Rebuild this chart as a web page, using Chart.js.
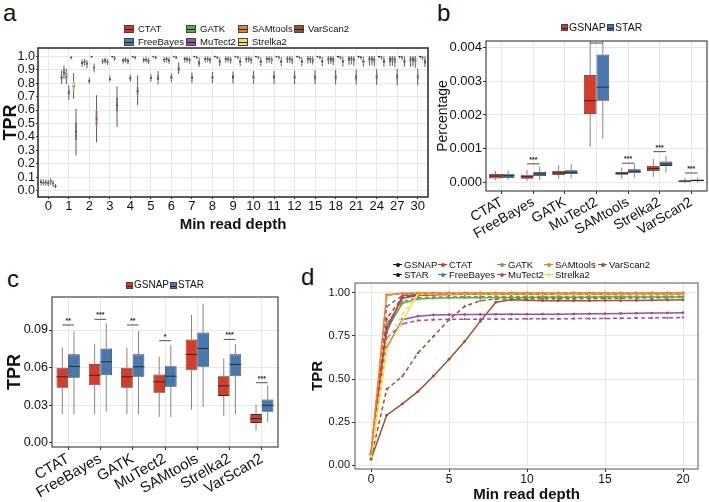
<!DOCTYPE html>
<html>
<head>
<meta charset="utf-8">
<script src="https://cdn.jsdelivr.net/npm/chart.js@4.4.0/dist/chart.umd.min.js"></script>
<style>
body{margin:0;width:709px;height:502px;position:relative;background:#fff;overflow:hidden;font-family:"Liberation Sans",Arial,sans-serif;color:#111}
canvas{position:absolute}
.tag{position:absolute;font-size:24px;line-height:24px}
.li{position:absolute;white-space:nowrap;line-height:10px}
.bx{position:absolute;box-sizing:border-box;border:1px solid #444}
.bx:after{content:"";position:absolute;left:0;right:0;top:50%;border-top:1px solid #222}
.ln{position:absolute;height:0}
.dot{position:absolute;width:4px;height:4px;border-radius:2px}
</style>
</head>
<body>
<div class="tag" style="left:3px;top:1px">a</div>
<div class="tag" style="left:437px;top:1px">b</div>
<div class="tag" style="left:7px;top:267px">c</div>
<div class="tag" style="left:301px;top:265px">d</div>
<canvas id="ca" width="436" height="240" style="left:0;top:0"></canvas>
<canvas id="cb" width="273" height="250" style="left:436px;top:0"></canvas>
<canvas id="cc" width="300" height="252" style="left:0;top:250px"></canvas>
<canvas id="cd" width="409" height="252" style="left:300px;top:250px"></canvas>
<div id="legs"></div>
<script>
Chart.defaults.font.family = '"Liberation Sans", Arial, sans-serif';
Chart.defaults.color = '#111';

// ---- data ----
var tools = ['CTAT', 'FreeBayes', 'GATK', 'MuTect2', 'SAMtools', 'Strelka2', 'VarScan2'];
var toolColors = ['#D7372A', '#4A7CB3', '#5BAA4C', '#9A4FA6', '#F0802A', '#F2E35A', '#A0522D'];
var mapColors = ['#D43D2A', '#4779B0']; // GSNAP, STAR

// panel a: [low whisker, q1, median, q3, high whisker] per min read depth
var depthA = ['0', '1', '2', '3', '4', '5', '6', '7', '8', '9', '10', '11', '12', '15', '18', '21', '24', '27', '30'];
var tickA = [0, 0.1, 0.2, 0.3, 0.4, 0.5, 0.6, 0.7, 0.8, 0.9, 1.0];
var ctatA = [[0.040,0.055,0.065,0.075,0.090],[0.795,0.825,0.840,0.864,0.894],[0.920,0.940,0.950,0.960,0.975],[0.940,0.952,0.962,0.970,0.982],[0.945,0.958,0.968,0.976,0.988],[0.950,0.962,0.972,0.980,0.990],[0.950,0.965,0.975,0.983,0.993],[0.952,0.967,0.977,0.985,0.995],[0.953,0.968,0.978,0.986,0.996],[0.953,0.968,0.979,0.987,0.997],[0.952,0.968,0.979,0.988,0.998],[0.950,0.967,0.980,0.988,0.998],[0.948,0.966,0.980,0.989,0.999],[0.945,0.965,0.980,0.990,1.000],[0.940,0.963,0.980,0.990,1.000],[0.935,0.960,0.980,0.991,1.000],[0.930,0.958,0.979,0.991,1.000],[0.925,0.955,0.978,0.991,1.000],[0.920,0.952,0.977,0.991,1.000]];
var fbA = [[0.040,0.050,0.060,0.070,0.085],[0.832,0.857,0.880,0.906,0.930],[0.930,0.948,0.958,0.968,0.980],[0.945,0.958,0.968,0.976,0.988],[0.950,0.962,0.972,0.980,0.992],[0.952,0.965,0.975,0.983,0.994],[0.953,0.967,0.977,0.985,0.995],[0.953,0.968,0.978,0.986,0.996],[0.954,0.969,0.979,0.987,0.997],[0.954,0.969,0.980,0.988,0.998],[0.953,0.969,0.980,0.988,0.998],[0.952,0.968,0.981,0.989,0.999],[0.950,0.967,0.981,0.990,1.000],[0.947,0.966,0.981,0.990,1.000],[0.943,0.964,0.981,0.991,1.000],[0.938,0.962,0.981,0.991,1.000],[0.933,0.960,0.980,0.991,1.000],[0.928,0.957,0.979,0.991,1.000],[0.923,0.954,0.978,0.991,1.000]];
var gatkA = [[0.040,0.055,0.063,0.072,0.085],[0.790,0.825,0.845,0.874,0.906],[0.910,0.930,0.943,0.955,0.970],[0.935,0.948,0.958,0.967,0.980],[0.940,0.953,0.963,0.972,0.985],[0.942,0.956,0.966,0.975,0.988],[0.943,0.958,0.968,0.977,0.990],[0.944,0.959,0.969,0.978,0.991],[0.944,0.960,0.970,0.979,0.992],[0.944,0.960,0.971,0.980,0.993],[0.943,0.960,0.971,0.981,0.994],[0.942,0.959,0.972,0.982,0.995],[0.940,0.958,0.972,0.983,0.996],[0.937,0.957,0.972,0.984,0.997],[0.933,0.955,0.972,0.985,0.998],[0.928,0.953,0.972,0.985,0.999],[0.923,0.951,0.971,0.986,1.000],[0.918,0.948,0.970,0.986,1.000],[0.913,0.945,0.969,0.986,1.000]];
var mtA = [[0.035,0.048,0.057,0.065,0.080],[0.677,0.709,0.728,0.750,0.783],[0.795,0.806,0.815,0.826,0.840],[0.810,0.822,0.830,0.840,0.855],[0.810,0.825,0.835,0.845,0.860],[0.810,0.826,0.838,0.848,0.865],[0.805,0.826,0.840,0.852,0.870],[0.800,0.826,0.841,0.856,0.878],[0.798,0.826,0.842,0.858,0.882],[0.796,0.826,0.842,0.860,0.886],[0.795,0.826,0.843,0.861,0.888],[0.794,0.826,0.843,0.862,0.890],[0.793,0.826,0.843,0.863,0.892],[0.792,0.825,0.844,0.864,0.895],[0.790,0.825,0.844,0.865,0.898],[0.788,0.825,0.844,0.866,0.900],[0.786,0.825,0.845,0.867,0.902],[0.784,0.824,0.845,0.868,0.904],[0.782,0.824,0.845,0.869,0.906]];
var samA = [[0.045,0.060,0.070,0.080,0.095],[0.975,0.984,0.990,0.995,1.000],[0.985,0.993,0.997,0.999,1.000],[0.986,0.994,0.997,0.999,1.000],[0.987,0.994,0.998,0.999,1.000],[0.987,0.995,0.998,0.999,1.000],[0.988,0.995,0.998,0.999,1.000],[0.988,0.995,0.998,1.000,1.000],[0.988,0.995,0.998,1.000,1.000],[0.988,0.995,0.998,1.000,1.000],[0.988,0.995,0.998,1.000,1.000],[0.988,0.995,0.998,1.000,1.000],[0.988,0.995,0.998,1.000,1.000],[0.987,0.995,0.998,1.000,1.000],[0.986,0.994,0.998,1.000,1.000],[0.985,0.994,0.998,1.000,1.000],[0.984,0.993,0.998,1.000,1.000],[0.983,0.993,0.998,1.000,1.000],[0.982,0.992,0.998,1.000,1.000]];
var strA = [[0.030,0.045,0.055,0.065,0.080],[0.684,0.746,0.775,0.812,0.874],[0.880,0.900,0.913,0.928,0.945],[0.965,0.978,0.985,0.992,1.000],[0.975,0.985,0.990,0.995,1.000],[0.976,0.986,0.991,0.996,1.000],[0.977,0.986,0.991,0.996,1.000],[0.977,0.987,0.992,0.996,1.000],[0.977,0.987,0.992,0.996,1.000],[0.977,0.987,0.992,0.997,1.000],[0.977,0.987,0.992,0.997,1.000],[0.976,0.987,0.992,0.997,1.000],[0.976,0.986,0.992,0.997,1.000],[0.975,0.986,0.992,0.997,1.000],[0.974,0.985,0.992,0.997,1.000],[0.973,0.985,0.992,0.997,1.000],[0.972,0.984,0.992,0.997,1.000],[0.971,0.984,0.991,0.997,1.000],[0.970,0.983,0.991,0.997,1.000]];
var vsA = [[0.020,0.030,0.035,0.042,0.052],[0.264,0.375,0.440,0.504,0.610],[0.360,0.479,0.535,0.597,0.710],[0.474,0.590,0.635,0.690,0.775],[0.635,0.709,0.740,0.775,0.857],[0.790,0.820,0.835,0.857,0.889],[0.867,0.890,0.905,0.930,0.955],[0.920,0.932,0.948,0.965,0.990],[0.925,0.945,0.958,0.972,0.990],[0.926,0.946,0.959,0.973,0.991],[0.926,0.946,0.959,0.973,0.991],[0.925,0.946,0.959,0.973,0.992],[0.925,0.946,0.960,0.974,0.992],[0.924,0.946,0.960,0.974,0.993],[0.923,0.946,0.960,0.975,0.994],[0.922,0.945,0.960,0.975,0.995],[0.921,0.945,0.960,0.976,0.996],[0.920,0.944,0.960,0.976,0.997],[0.919,0.944,0.960,0.977,0.998]];
var statsA = [ctatA, fbA, gatkA, mtA, samA, strA, vsA];

// panel b: percentage, per caller
var tickB = [0, 0.001, 0.002, 0.003, 0.004];
var gsnapB = [[0.00008,0.00013,0.00020,0.00026,0.00035],[0.00005,0.00012,0.00018,0.00024,0.00038],[0.00012,0.00023,0.00029,0.00035,0.00052],[0.00106,0.00203,0.00242,0.00318,0.00450],[0.00012,0.00024,0.00028,0.00032,0.00045],[0.00018,0.00035,0.00042,0.00050,0.00070],[0.00000,0.00003,0.00005,0.00008,0.00015]];
var starB = [[0.00009,0.00014,0.00021,0.00027,0.00036],[0.00008,0.00020,0.00026,0.00032,0.00048],[0.00015,0.00026,0.00031,0.00037,0.00055],[0.00130,0.00242,0.00282,0.00378,0.00450],[0.00016,0.00028,0.00033,0.00040,0.00055],[0.00030,0.00050,0.00056,0.00063,0.00080],[0.00002,0.00005,0.00007,0.00010,0.00016]];
var sigB = ['', '***', '', '**', '***', '***', '***'];
var sigYB = [0, 0.00056, 0, 0.00412, 0.00058, 0.00092, 0.00029];

// panel c: TPR, per caller
var tickC = [0, 0.03, 0.06, 0.09];
var gsnapC = [[0.023,0.044,0.0527,0.060,0.076],[0.023,0.046,0.054,0.063,0.079],[0.023,0.044,0.0527,0.060,0.076],[0.0208,0.040,0.0487,0.0546,0.0687],[0.0266,0.058,0.0705,0.0825,0.102],[0.0216,0.0375,0.0455,0.0532,0.0674],[0.010,0.016,0.0194,0.023,0.0306]];
var starC = [[0.023,0.052,0.061,0.0706,0.089],[0.025,0.054,0.0647,0.0753,0.0953],[0.023,0.0527,0.0607,0.0706,0.089],[0.0208,0.0447,0.0532,0.0612,0.078],[0.0288,0.0607,0.0753,0.088,0.111],[0.023,0.0532,0.0626,0.0706,0.079],[0.0168,0.0248,0.030,0.0346,0.046]];
var sigC = ['**', '***', '**', '*', '', '***', '***'];
var sigYC = [0.094, 0.0985, 0.094, 0.0815, 0, 0.0825, 0.048];

// panel d: mean TPR by min read depth, GSNAP (solid) and STAR (dashed)
var depthD = [0,1,2,3,4,5,6,7,8,9,10,11,12,13,14,15,16,17,18,19,20];
var tickDx = [0, 5, 10, 15, 20];
var tickDy = [0, 0.25, 0.5, 0.75, 1.0];
var ctatG = [0.06,0.80,0.970,0.985,0.990,0.991,0.992,0.992,0.993,0.993,0.993,0.993,0.994,0.994,0.994,0.994,0.994,0.995,0.995,0.995,0.995];
var ctatS = [0.06,0.85,0.975,0.988,0.991,0.992,0.993,0.993,0.994,0.994,0.994,0.994,0.994,0.995,0.995,0.995,0.995,0.995,0.996,0.996,0.996];
var fbG = [0.07,0.77,0.985,0.990,0.992,0.993,0.993,0.994,0.994,0.994,0.995,0.995,0.995,0.995,0.995,0.996,0.996,0.996,0.996,0.996,0.996];
var fbS = [0.07,0.92,0.985,0.992,0.994,0.995,0.995,0.995,0.996,0.996,0.996,0.996,0.996,0.996,0.997,0.997,0.997,0.997,0.997,0.997,0.997];
var gatkG = [0.06,0.786,0.940,0.965,0.970,0.972,0.973,0.973,0.974,0.974,0.974,0.975,0.975,0.975,0.975,0.976,0.976,0.976,0.976,0.977,0.977];
var gatkS = [0.06,0.820,0.950,0.972,0.976,0.977,0.978,0.978,0.979,0.979,0.979,0.980,0.980,0.980,0.980,0.980,0.981,0.981,0.981,0.981,0.981];
var mtG = [0.07,0.68,0.845,0.865,0.872,0.874,0.875,0.875,0.876,0.876,0.877,0.877,0.877,0.878,0.879,0.880,0.881,0.882,0.883,0.884,0.885];
var mtS = [0.06,0.738,0.820,0.840,0.845,0.847,0.848,0.848,0.849,0.849,0.850,0.850,0.850,0.851,0.851,0.852,0.853,0.854,0.855,0.856,0.857];
var samG = [0.07,0.990,0.998,1.0,1.0,1.0,1.0,1.0,1.0,1.0,1.0,1.0,1.0,1.0,1.0,1.0,1.0,1.0,1.0,1.0,1.0];
var samS = [0.065,0.985,0.997,0.999,1.0,1.0,1.0,1.0,1.0,1.0,1.0,1.0,1.0,1.0,1.0,1.0,1.0,1.0,1.0,1.0,1.0];
var strG = [0.05,0.67,0.835,0.995,0.997,0.997,0.997,0.997,0.997,0.997,0.997,0.997,0.997,0.997,0.997,0.997,0.997,0.997,0.997,0.997,0.997];
var strS = [0.05,0.72,0.875,0.990,0.995,0.996,0.996,0.996,0.996,0.996,0.996,0.996,0.996,0.996,0.996,0.996,0.996,0.996,0.996,0.996,0.996];
var vsG = [0.033,0.29,0.355,0.427,0.518,0.615,0.718,0.835,0.946,0.960,0.958,0.955,0.955,0.955,0.955,0.956,0.956,0.957,0.958,0.959,0.960];
var vsS = [0.04,0.44,0.515,0.65,0.748,0.845,0.922,0.955,0.965,0.966,0.966,0.966,0.967,0.967,0.968,0.969,0.970,0.971,0.972,0.973,0.975];
var seriesG = [ctatG, fbG, gatkG, mtG, samG, strG, vsG];
var seriesS = [ctatS, fbS, gatkS, mtS, samS, strS, vsS];

// ---- plugins ----
var frame = {
  id: 'frame',
  afterDraw: function(chart, args, o) {
    var c = chart.ctx, a = chart.chartArea;
    c.save();
    c.strokeStyle = o.color; c.lineWidth = o.width;
    c.strokeRect(a.left, a.top, a.right - a.left, a.bottom - a.top);
    c.restore();
  }
};

var boxes = {
  id: 'boxes',
  beforeDatasetsDraw: function(chart, args, o) {
    var c = chart.ctx, a = chart.chartArea, y = chart.scales.y;
    c.save();
    c.beginPath(); c.rect(a.left, a.top, a.right - a.left, a.bottom - a.top); c.clip();
    c.strokeStyle = o.whisker; c.lineWidth = o.lw;
    chart.data.datasets.forEach(function(ds, di) {
      if (!ds.stats) return;
      chart.getDatasetMeta(di).data.forEach(function(el, i) {
        var s = ds.stats[i];
        c.beginPath();
        c.moveTo(el.x, y.getPixelForValue(s[0])); c.lineTo(el.x, y.getPixelForValue(s[1]));
        c.moveTo(el.x, y.getPixelForValue(s[3])); c.lineTo(el.x, y.getPixelForValue(s[4]));
        c.stroke();
      });
    });
    c.restore();
  },
  afterDatasetsDraw: function(chart, args, o) {
    var c = chart.ctx, a = chart.chartArea, y = chart.scales.y;
    c.save();
    c.beginPath(); c.rect(a.left, a.top, a.right - a.left, a.bottom - a.top); c.clip();
    c.strokeStyle = '#1a1a1a'; c.lineWidth = o.medLw;
    chart.data.datasets.forEach(function(ds, di) {
      if (!ds.stats) return;
      chart.getDatasetMeta(di).data.forEach(function(el, i) {
        var py = y.getPixelForValue(ds.stats[i][2]);
        c.beginPath(); c.moveTo(el.x - el.width / 2, py); c.lineTo(el.x + el.width / 2, py); c.stroke();
      });
    });
    if (o.sig) {
      var m0 = chart.getDatasetMeta(0).data, m1 = chart.getDatasetMeta(1).data;
      c.strokeStyle = '#222'; c.fillStyle = '#222'; c.lineWidth = 0.8;
      c.font = 'bold 7px "Liberation Sans", Arial'; c.textAlign = 'center'; c.textBaseline = 'bottom';
      o.sig.forEach(function(t, i) {
        if (!t) return;
        var py = y.getPixelForValue(o.sigY[i]);
        c.beginPath(); c.moveTo(m0[i].x, py); c.lineTo(m1[i].x, py); c.stroke();
        c.fillText(t, (m0[i].x + m1[i].x) / 2, py - 0.5);
      });
    }
    c.restore();
  }
};
Chart.register(frame, boxes);

function fixTicks(list) {
  return function(s) { s.ticks = list.map(function(v) { return {value: v}; }); };
}
var gridCol = '#E8E8E8';

// ---- panel a ----
new Chart(document.getElementById('ca'), {
  type: 'bar',
  data: {
    labels: depthA,
    datasets: tools.map(function(t, i) {
      return {label: t, stats: statsA[i], data: statsA[i].map(function(s) { return [s[1], s[3]]; }),
        backgroundColor: toolColors[i], borderColor: '#333', borderWidth: 0.6, borderSkipped: false,
        categoryPercentage: 0.82, barPercentage: 0.85};
    })
  },
  options: {
    responsive: false, animation: false,
    layout: {padding: {left: 0, top: 48, right: 8, bottom: 8}},
    plugins: {legend: {display: false}, tooltip: {enabled: false},
      frame: {color: '#333', width: 1.6}, boxes: {whisker: '#333', lw: 0.8, medLw: 0.6}},
    scales: {
      x: {grid: {color: gridCol, offset: false, tickLength: 2, tickColor: '#333'}, border: {display: false},
        ticks: {font: {size: 13, lineHeight: 1}, padding: 1, autoSkip: false, maxRotation: 0},
        title: {display: true, text: 'Min read depth', font: {size: 15, weight: 'bold', lineHeight: 1}, padding: 0},
        afterFit: function(s) { s.height = 35; }},
      y: {min: -0.045, max: 1.06, afterBuildTicks: fixTicks(tickA),
        grid: {color: gridCol, tickLength: 2, tickColor: '#333'}, border: {display: false},
        ticks: {font: {size: 12.5}, padding: 1, autoSkip: false, callback: function(v) { return v.toFixed(1); }},
        title: {display: true, text: 'TPR', font: {size: 18, weight: 'bold', lineHeight: 1.2}, padding: 0},
        afterFit: function(s) { s.width = 38; }}
    }
  }
});

// ---- panels b and c ----
function mapBox(id, g, st, ticks, yMin, yMax, digits, sig, sigY, opt) {
  new Chart(document.getElementById(id), {
    type: 'bar',
    data: {
      labels: tools,
      datasets: [g, st].map(function(arr, i) {
        return {label: i ? 'STAR' : 'GSNAP', stats: arr, data: arr.map(function(s) { return [s[1], s[3]]; }),
          backgroundColor: mapColors[i], borderColor: '#333', borderWidth: 0.8, borderSkipped: false,
          categoryPercentage: opt.cat, barPercentage: 1};
      })
    },
    options: {
      responsive: false, animation: false,
      layout: {padding: opt.pad},
      plugins: {legend: {display: false}, tooltip: {enabled: false},
        frame: {color: '#333', width: 1.1}, boxes: {whisker: '#666', lw: 0.8, medLw: 0.8, sig: sig, sigY: sigY}},
      scales: {
        x: {grid: {color: gridCol, offset: false, tickLength: 3, tickColor: '#333'}, border: {display: false},
          ticks: {font: {size: opt.xFont}, padding: 0, autoSkip: false, maxRotation: 30, minRotation: 30},
          afterFit: function(s) { s.height = opt.xh; }},
        y: {min: yMin, max: yMax, afterBuildTicks: fixTicks(ticks),
          grid: {color: gridCol, tickLength: 3, tickColor: '#333'}, border: {display: false},
          ticks: {font: {size: opt.yFont}, padding: 1, autoSkip: false, callback: function(v) { return v.toFixed(digits); }},
          title: {display: true, text: opt.yTitle, font: opt.titleFont, padding: 0},
          afterFit: function(s) { s.width = opt.yw; }}
      }
    }
  });
}
mapBox('cb', gsnapB, starB, tickB, -0.00024, 0.00418, 3, sigB, sigYB,
  {cat: 0.8, pad: {left: 0, top: 41, right: 2, bottom: 0}, xh: 59, yw: 50, xFont: 14, yFont: 13,
   yTitle: 'Percentage', titleFont: {size: 14, lineHeight: 1}});
mapBox('cc', gsnapC, starC, tickC, -0.0032, 0.1163, 2, sigC, sigYC,
  {cat: 0.72, pad: {left: 6, top: 47, right: 22, bottom: 0}, xh: 55, yw: 46, xFont: 15, yFont: 12.5,
   yTitle: 'TPR', titleFont: {size: 18, weight: 'bold', lineHeight: 1}});

// ---- panel d ----
var dsD = [];
[4, 5, 0, 1, 2, 3, 6].forEach(function(i) {
  [seriesG[i], seriesS[i]].forEach(function(arr, k) {
    dsD.push({label: tools[i] + (k ? ' STAR' : ' GSNAP'),
      data: depthD.map(function(x, j) { return {x: x, y: arr[j]}; }),
      borderColor: toolColors[i], backgroundColor: toolColors[i], borderWidth: 1.5,
      borderDash: k ? [4, 3] : [], pointRadius: k ? 1.8 : 1.4, pointStyle: k ? 'triangle' : 'circle',
      pointBorderWidth: 0, tension: 0});
  });
});
new Chart(document.getElementById('cd'), {
  type: 'line',
  data: {datasets: dsD},
  options: {
    responsive: false, animation: false,
    layout: {padding: {left: 9, top: 33, right: 11, bottom: 0}},
    plugins: {legend: {display: false}, tooltip: {enabled: false}, frame: {color: '#555', width: 1}},
    scales: {
      x: {type: 'linear', min: -1.03, max: 20.96, afterBuildTicks: fixTicks(tickDx),
        grid: {color: gridCol, tickLength: 3, tickColor: '#333'}, border: {display: false},
        ticks: {font: {size: 12, lineHeight: 1}, padding: 2, autoSkip: false},
        title: {display: true, text: 'Min read depth', font: {size: 15, weight: 'bold', lineHeight: 1}, padding: 0},
        afterFit: function(s) { s.height = 33; }},
      y: {min: -0.023, max: 1.058, afterBuildTicks: fixTicks(tickDy),
        grid: {color: gridCol, tickLength: 3, tickColor: '#333'}, border: {display: false},
        ticks: {font: {size: 11}, padding: 2, autoSkip: false, callback: function(v) { return v.toFixed(2); }},
        title: {display: true, text: 'TPR', font: {size: 15, weight: 'bold', lineHeight: 1.2}, padding: 0},
        afterFit: function(s) { s.width = 46; }}
    }
  }
});

// ---- legends (HTML) ----
var legs = document.getElementById('legs');
function add(html) { legs.insertAdjacentHTML('beforeend', html); }
function text(x, yc, t, size) {
  add('<div class="li" style="left:' + x + 'px;top:' + (yc - 5) + 'px;font-size:' + size + 'px">' + t + '</div>');
}
// a: column-major, 2 rows
var colA = [124, 186, 238, 294], rowA = [29, 42];
tools.forEach(function(t, i) {
  var x = colA[Math.floor(i / 2)], yc = rowA[i % 2];
  add('<div class="bx" style="left:' + x + 'px;top:' + (yc - 4) + 'px;width:10px;height:8px;background:' + toolColors[i] + '"></div>');
  text(x + 14, yc, t, 9.5);
});
// b and c
function mapLeg(xs, yc, size) {
  ['GSNAP', 'STAR'].forEach(function(t, i) {
    add('<div class="bx" style="left:' + xs[i] + 'px;top:' + (yc - 3) + 'px;width:7px;height:7px;background:' + mapColors[i] + '"></div>');
    text(xs[i] + 8, yc, t, size);
  });
}
mapLeg([561, 607], 27, 10.5);
mapLeg([126, 170], 285, 10);
// d: line keys
var colD = [393, 438, 497, 544, 598], rowD = [265, 275];
function lineKey(x, yc, col, dashed) {
  add('<div class="ln" style="left:' + x + 'px;top:' + (yc - 1) + 'px;width:9px;border-top:1.5px ' + (dashed ? 'dashed' : 'solid') + ' ' + col + '"></div>');
  add('<div class="dot" style="left:' + (x + 2.5) + 'px;top:' + (yc - 2) + 'px;background:' + col + '"></div>');
}
['GSNAP', 'STAR'].forEach(function(t, k) {
  lineKey(colD[0], rowD[k], '#111', k === 1);
  text(colD[0] + 11, rowD[k], t, 9.5);
});
tools.forEach(function(t, i) {
  var x = colD[1 + Math.floor(i / 2)], yc = rowD[i % 2];
  lineKey(x, yc, toolColors[i], false);
  text(x + 11, yc, t, 9.5);
});
</script>
</body>
</html>
